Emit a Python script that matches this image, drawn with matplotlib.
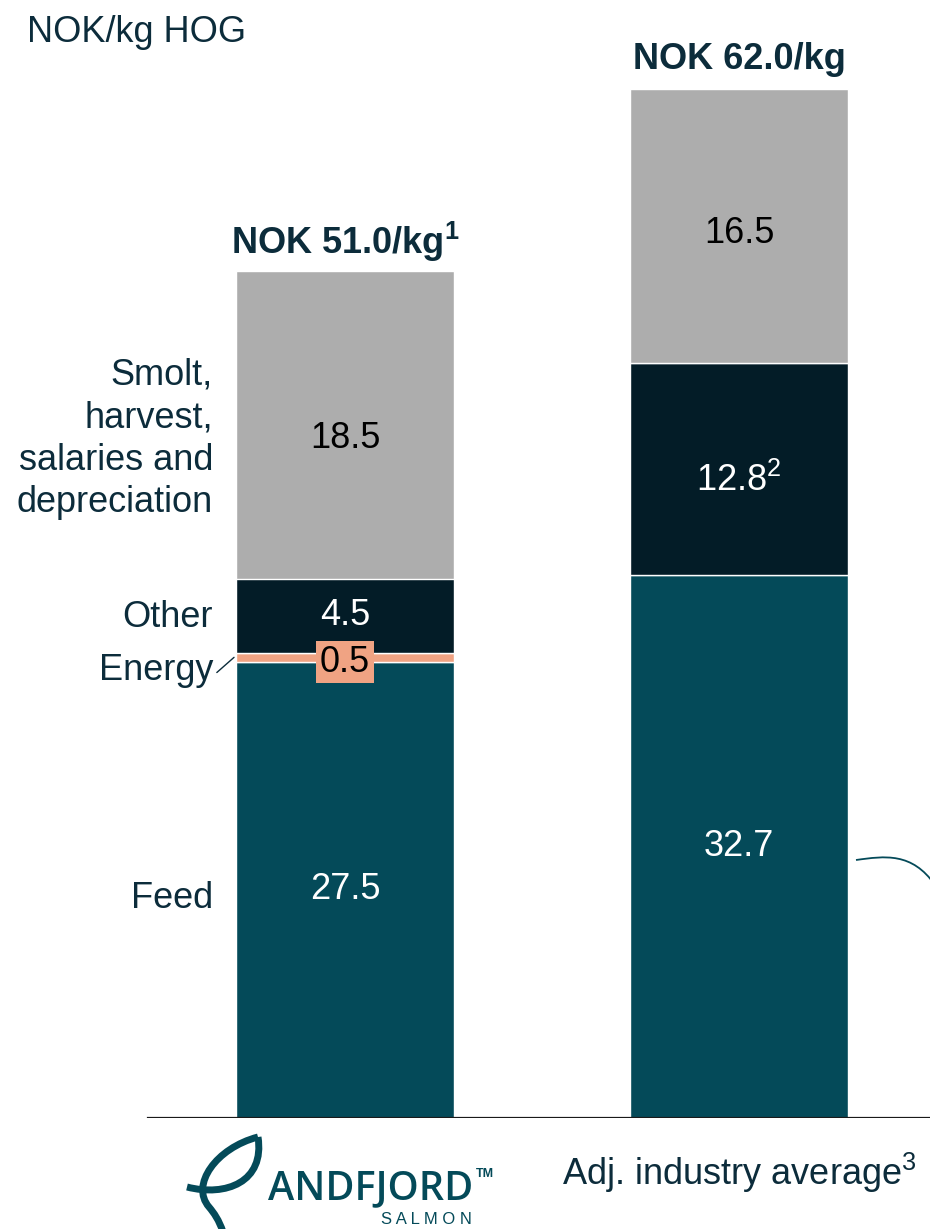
import numpy as np
import matplotlib
matplotlib.use("Agg")
import matplotlib.pyplot as plt
from matplotlib.path import Path
from matplotlib.patches import PathPatch

plt.rcParams['font.family'] = ['Liberation Sans', 'DejaVu Sans']
plt.rcParams['mathtext.fontset'] = 'custom'
plt.rcParams['mathtext.rm'] = 'Liberation Sans'
plt.rcParams['mathtext.bf'] = 'Liberation Sans:bold'

# cost build-up per kg HOG
bars = ["Andfjord", "Adj. industry average"]
feed = [27.5, 32.7]
energy = [0.5, 0.0]
other = [4.5, 12.8]
smolt = [18.5, 16.5]
totals = [51.0, 62.0]
total_labels = [r"NOK 51.0/kg$^{\mathbf{1}}$", "NOK 62.0/kg"]
other_labels = ["4.5", r"12.8$^{\mathrm{2}}$"]
categories = ["Feed", "Energy", "Other", "Smolt,\nharvest,\nsalaries and\ndepreciation"]

C_FEED = "#044a59"
C_ENERGY = "#f0a383"
C_OTHER = "#031c27"
C_SMOLT = "#adadad"
C_TEXT = "#0c2c3b"

W, H = 930, 1229
fig = plt.figure(figsize=(W / 100, H / 100), dpi=100)

# main axes: baseline sits 111 px above the bottom edge, 16.6 px per NOK
px_per_unit = 16.6
ax = fig.add_axes([0, 111 / H, 1, 1118 / H])
ax.set_ylim(0, 1118 / px_per_unit)
ax.set_xlim(-345 / 394, (W - 345) / 394)
ax.axis("off")

x = np.arange(len(bars))
width = 218 / 394
segments = [
    (feed, C_FEED),
    (energy, C_ENERGY),
    (other, C_OTHER),
    (smolt, C_SMOLT),
]

bottom = np.zeros(len(bars))
mids = []
for vals, col in segments:
    vals = np.array(vals)
    keep = vals > 0
    ax.bar(x[keep], vals[keep], width, bottom=bottom[keep], color=col,
           edgecolor="white", linewidth=1)
    mids.append(bottom + vals / 2)
    bottom = bottom + vals

fs = 26
# value labels inside the segments
for i in range(len(bars)):
    ax.text(x[i], mids[0][i], f"{feed[i]}", ha="center", va="center",
            color="white", fontsize=fs)
    ax.text(x[i], mids[2][i] - (0.7 if i == 1 else 0), other_labels[i],
            ha="center", va="center", color="white", fontsize=fs)
    ax.text(x[i], mids[3][i] - (0.8 if i == 0 else 0.45), f"{smolt[i]}",
            ha="center", va="center", color="black", fontsize=fs)
    ax.text(x[i], totals[i] + 1.75, total_labels[i], ha="center", va="center",
            color=C_TEXT, fontsize=fs, fontweight="bold")

ax.text(x[0], mids[1][0] - 0.3, f"{energy[0]}", ha="center", va="center",
        color="black", fontsize=fs,
        bbox=dict(boxstyle="square,pad=0.1", facecolor=C_ENERGY, edgecolor="none"))

# category labels to the left of the first bar
lx = -0.335
ax.text(lx, mids[0][0] - 0.5, categories[0], ha="right", va="center",
        color=C_TEXT, fontsize=fs)
ax.text(lx, mids[2][0] - 0.1, categories[2], ha="right", va="center",
        color=C_TEXT, fontsize=fs)
ax.text(lx, mids[3][0] - 0.85, categories[3], ha="right", va="center",
        color=C_TEXT, fontsize=fs, linespacing=1.28)
ax.annotate(categories[1], xy=(x[0] - width / 2 - 0.005, mids[1][0]),
            xytext=(lx, mids[1][0] - 0.8), ha="right", va="center",
            color=C_TEXT, fontsize=fs,
            arrowprops=dict(arrowstyle="-", color=C_TEXT, lw=1,
                            shrinkA=1, shrinkB=0, relpos=(1, 0.35)))

ax.axhline(0, xmin=148 / W, xmax=1, color="#1a1a1a", lw=1.6, zorder=5)

ax.text(x[1], -3.3, r"Adj. industry average$^{\mathrm{3}}$", ha="center",
        va="center", color=C_TEXT, fontsize=fs, clip_on=False)

fig.text(27 / W, 1 - 32 / H, "NOK/kg HOG", ha="left", va="center",
         color=C_TEXT, fontsize=fs)

# overlay in pixel units for the logo and the callout stroke
ov = fig.add_axes([0, 0, 1, 1], facecolor="none")
ov.set_xlim(0, W)
ov.set_ylim(H, 0)
ov.axis("off")

def stroke(pts, lw, color=C_FEED):
    codes = [Path.MOVETO] + [Path.CURVE4] * (len(pts) - 1)
    ov.add_patch(PathPatch(Path(pts, codes), facecolor="none", edgecolor=color,
                           lw=lw, capstyle="butt"))

stroke([(856, 860), (885, 856), (912, 852), (935, 885)], 1.3)

# leaf mark
stroke([(258, 1137), (216, 1148), (190, 1185), (209, 1207),
        (214, 1213), (219, 1220), (223, 1232)], 5)
stroke([(187, 1187), (226, 1197), (265, 1182), (258, 1137)], 5)
ov.text(268, 1189, "ANDFJORD", ha="left", va="center", color=C_FEED,
        fontsize=28.5, fontfamily="Open Sans", fontweight="semibold")
ov.text(476, 1174, "TM", ha="left", va="center", color=C_FEED,
        fontsize=9, fontweight="bold")
ov.text(426, 1220, "S A L M O N", ha="center", va="center", color=C_FEED,
        fontsize=12)

fig.savefig("out.png", dpi=100)
